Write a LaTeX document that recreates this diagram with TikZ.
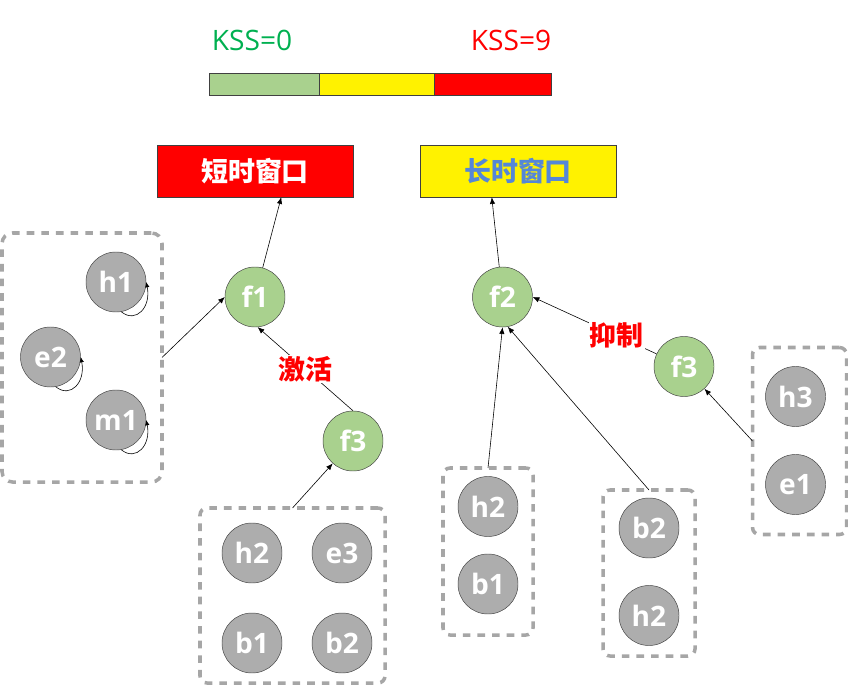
\documentclass[tikz,border=0pt]{standalone}
\usepackage{fontspec}
\setmainfont{Open Sans}
\newfontfamily\cjk{Noto Sans CJK SC}
\usetikzlibrary{arrows.meta,positioning,shapes}
\definecolor{kgreen}{RGB}{169,209,142}
\definecolor{kdark}{RGB}{0,176,80}
\definecolor{kgrey}{RGB}{173,173,173}
\definecolor{kdash}{RGB}{166,166,166}
\definecolor{kblue}{RGB}{85,135,215}
\definecolor{kline}{RGB}{64,64,64}

\begin{document}
\begin{tikzpicture}[x=0.03cm, y=-0.03cm,
        feat/.style={circle, draw=kline, fill=kgreen, minimum size=1.8cm, inner sep=0pt, text=white, font=\fontsize{24}{24}\selectfont\bfseries},
        leaf/.style={feat, fill=kgrey},
        group/.style={draw=kdash, line width=3pt, dash pattern=on 6.5pt off 6pt, rounded corners=6pt, inner sep=0pt, outer sep=0pt},
        win/.style={draw=kline, minimum width=5.88cm, minimum height=1.56cm, font=\cjk\fontsize{23}{23}\selectfont\bfseries},
        link/.style={-{Latex[length=2mm,width=1.6mm]}, black, line width=0.5pt},
        selfloop/.style={-{Latex[length=1.6mm,width=1.3mm]}, black, line width=0.5pt},
        tag/.style={fill=white, text=red, inner sep=1pt, font=\cjk\fontsize{23}{23}\selectfont\bfseries}]
        \useasboundingbox (0,0) rectangle (848,685);
        \node[text=kdark, font=\fontsize{24}{24}\selectfont] (kss0) at (252,40) {KSS=0};
        \node[text=red, font=\fontsize{24}{24}\selectfont] (kss9) at (511,40) {KSS=9};
        \draw[kline, fill=kgreen] (209,73) rectangle (319,95);
        \draw[kline, fill=yellow] (319,73) rectangle (434,95);
        \draw[kline, fill=red] (434,73) rectangle (551,95);
        \node[win, fill=red, text=white] (shortwin) at (255,171) {短时窗口};
        \node[win, fill=yellow, text=kblue] (longwin) at (518,171) {长时窗口};
        \node[group, minimum width=4.8cm, minimum height=7.47cm, rounded corners=9pt] (grpA) at (82,357.5) {};
        \node[group, minimum width=5.55cm, minimum height=5.25cm] (grpB) at (292.5,595.5) {};
        \node[group, minimum width=2.7cm, minimum height=5.01cm] (grpC) at (488,551.5) {};
        \node[group, minimum width=2.76cm, minimum height=4.98cm] (grpD) at (649,573) {};
        \node[group, minimum width=2.82cm, minimum height=5.61cm] (grpE) at (799.5,441) {};
        \foreach \n/\x/\y/\t in {h1/116/282/h1, e2/50.5/357/e2, m1/116/420/m1}{
                \node[leaf] (\n) at (\x,\y) {\t};
                \draw[selfloop] (\n.-80) .. controls +(15,12) and +(5,25) .. (\n.east);}
        \foreach \n/\x/\y/\t in {bh2/252/553/h2, be3/342/553/e3, bb1/252/643/b1, bb2/342/643/b2, ch2/488/506.5/h2, cb1/488/584/b1, db2/649/528/b2, dh2/649/615.5/h2, eh3/795.5/396.5/h3, ee1/795.5/484.5/e1}{\node[leaf] (\n) at (\x,\y) {\t};}
        \node[feat] (f1) at (255,297) {f1};
        \node[feat] (f2) at (502.5,297) {f2};
        \node[feat] (f3L) at (353,441) {f3};
        \node[feat] (f3R) at (684,366.5) {f3};
        \draw[link] (f1) -- (shortwin.-45);
        \draw[link] (f2) -- (longwin.-135);
        \draw[link] (grpA.east) -- (f1.west);
        \draw[link] (f3L.north) -- node[tag] {激活} (f1.-85);
        \draw[link] (grpB.north) -- (f3L);
        \draw[link] (grpC.north) -- (f2.south);
        \draw[link] (grpD.north) -- (f2.-80);
        \draw[link] (f3R) -- node[tag, pos=0.32] {抑制} (f2.east);
        \draw[link] (grpE.west) -- (f3R);
    \end{tikzpicture}
\end{document}
